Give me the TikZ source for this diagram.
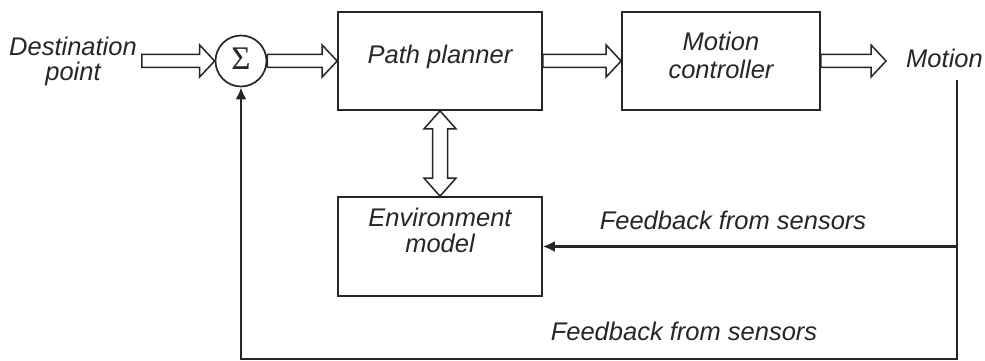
\documentclass[tikz,border=0pt]{standalone}
\usepackage{fontspec}
\setmainfont{Liberation Sans}
\newfontfamily\sigfont{Liberation Serif}
\usetikzlibrary{arrows.meta,calc}
\newcommand{\myfs}[1]{\fontsize{25.5pt}{#1pt}\selectfont\itshape}
\definecolor{ink}{HTML}{262626}
\tikzset{
  box/.style={draw=ink, line width=1.7pt, rectangle, inner sep=0pt, align=center, text=ink},
  lbl/.style={inner sep=0pt, align=center, text=ink},
  blk/.style={draw=ink, line width=1.5pt, fill=white, line join=miter},
  fbl/.style={draw=ink, line width=2.2pt, line join=miter},
  fbtip/.style={-{Latex[length=12pt,width=11pt]}},
  harrow/.style={to path={let \p1=(\tikztostart), \p2=(\tikztotarget) in
     (\x1,\y1+6.5pt) -- (\x2-15pt,\y1+6.5pt) -- (\x2-15pt,\y1+16pt) -- (\x2,\y1)
     -- (\x2-15pt,\y1-16pt) -- (\x2-15pt,\y1-6.5pt) -- (\x1,\y1-6.5pt) -- cycle}},
  vdarrow/.style={to path={let \p1=(\tikztostart), \p2=(\tikztotarget) in
     (\x1,\y1) -- (\x1+16pt,\y1-18pt) -- (\x1+7.5pt,\y1-18pt) -- (\x1+7.5pt,\y2+18pt)
     -- (\x1+16pt,\y2+18pt) -- (\x1,\y2) -- (\x1-16pt,\y2+18pt) -- (\x1-7.5pt,\y2+18pt)
     -- (\x1-7.5pt,\y1-18pt) -- (\x1-16pt,\y1-18pt) -- cycle}}
}
\begin{document}
\begin{tikzpicture}[x=1pt,y=-1pt]
\useasboundingbox (0,0) rectangle (985,361);
% nodes
\node[lbl, font=\myfs{25}] (dst) at (73,61) {Destination\\point};
\node[draw=ink, line width=1.7pt, circle, minimum size=51pt, inner sep=0pt, text=ink] (sum) at (241,61)
  {\sigfont\fontsize{33pt}{33pt}\selectfont\raisebox{4pt}{Σ}};
\node[box, minimum width=204pt, minimum height=98pt, font=\myfs{27}, text depth=12.6pt] (pp) at (440,61) {Path planner};
\node[box, minimum width=198pt, minimum height=98pt, font=\myfs{28}, text depth=12.3pt] (mc) at (721,61) {Motion\\controller};
\node[box, minimum width=204pt, minimum height=99pt, font=\myfs{26}, text depth=32.3pt] (env) at (440,246.5) {Environment\\model};
\node[lbl, font=\myfs{27}] (mot) at (944.5,58) {Motion};
\node[lbl, font=\myfs{27}, anchor=base] (fb1) at (733,229) {Feedback from sensors};
\node[lbl, font=\myfs{27}, anchor=base] (fb2) at (684,340) {Feedback from sensors};
\coordinate (mr) at (957,80);
\coordinate (bot) at (0,359);
\coordinate (dstout) at ([xshift=5pt]dst.east |- sum.west);
\coordinate (motin) at ([xshift=-20pt]mot.west |- mc.east);
% block arrows
\draw[blk] (dstout) to[harrow] (sum.west);
\draw[blk] (sum.east) to[harrow] (pp.west);
\draw[blk] (pp.east) to[harrow] (mc.west);
\draw[blk] (mc.east) to[harrow] (motin);
\draw[blk] (pp.south) to[vdarrow] (env.north);
% feedback lines
\draw[fbl, fbtip] (mr) |- (env.east);
\draw[fbl, fbtip] (mr) -- (mr |- bot) -| (sum.south);
\end{tikzpicture}
\end{document}
